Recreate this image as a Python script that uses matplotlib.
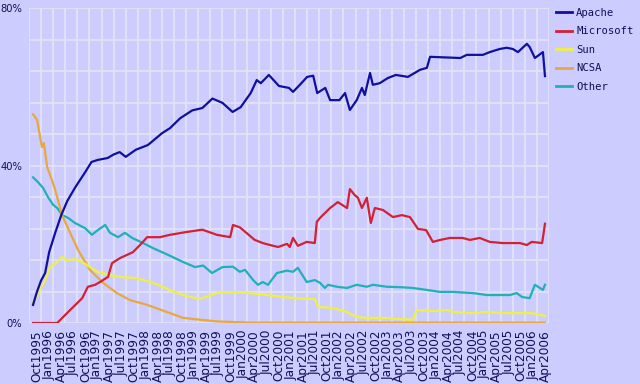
import matplotlib
matplotlib.use("Agg")
import matplotlib.pyplot as plt

# months counted from Oct 1995 (0) to Apr 2006 (126)
apache_m = [-1, 0, 1, 2, 3, 4.5, 6, 7.5, 9.5, 12, 13.5, 15, 17.5, 19, 20.5, 22, 24.5, 27.5,
            31, 33, 35.5, 38.5, 41, 43.5, 46, 48.5, 50.5, 53, 54.5, 55.5, 57.5, 60, 62.5,
            63.5, 65.2, 67, 68.5, 69.5, 71.5, 72.7, 75, 76.4, 77.6, 79.3, 80.6, 81.3, 82.6,
            83.3, 85, 87, 89, 92, 95, 96.7, 97.5, 100, 105, 106.6, 110.6, 112.3, 114.8,
            116.5, 118, 119.3, 121.5, 122.2, 123.5, 125.5, 126]
apache = [4.6, 8.0, 10.8, 12.7, 18.0, 22.9, 27.4, 31.0, 34.5, 38.4, 40.9, 41.4, 41.9, 42.8,
          43.4, 42.2, 44.0, 45.2, 48.2, 49.5, 52.0, 54.0, 54.6, 57.0, 55.9, 53.6, 54.8, 58.4,
          61.7, 60.9, 63.0, 60.2, 59.7, 58.7, 60.5, 62.5, 62.8, 58.4, 59.7, 56.6, 56.6, 58.4,
          54.1, 56.6, 59.7, 57.9, 63.5, 60.5, 60.9, 62.2, 63.0, 62.5, 64.3, 64.8, 67.6, 67.5,
          67.3, 68.1, 68.1, 68.8, 69.6, 69.9, 69.6, 68.8, 70.9, 70.1, 67.3, 68.8, 62.7]

microsoft_m = [-1, 5, 8.2, 11.2, 12.6, 14.4, 15.6, 17.6, 18.6, 20.6, 23.8, 26, 27.3, 30.5, 33,
               37, 41, 44.6, 47.9, 48.6, 50.3, 54, 56, 57.8, 59.8, 62, 62.7, 63.5, 64.7, 66.9,
               68.9, 69.4, 70.2, 72.7, 74.6, 76.9, 77.6, 78.8, 79.6, 80.6, 81.8, 82.8, 83.8,
               85.8, 88.3, 90.5, 92.5, 94.5, 96.5, 98.2, 100, 102.4, 105.6, 107.4, 109.8,
               112.3, 115.5, 119.8, 121.5, 122.7, 125.3, 126]
microsoft = [0, 0, 3.3, 6.3, 9.2, 9.7, 10.4, 11.7, 15.2, 16.5, 18.0, 20.3, 21.8, 21.8, 22.4,
             23.1, 23.7, 22.4, 21.8, 24.9, 24.3, 21.1, 20.3, 19.8, 19.3, 20.1, 19.3, 21.6,
             19.6, 20.6, 20.3, 25.7, 26.7, 29.2, 30.7, 29.2, 34.0, 32.5, 31.8, 29.2, 31.8,
             25.4, 29.2, 28.7, 26.9, 27.4, 26.9, 23.9, 23.6, 20.6, 21.1, 21.6, 21.6, 21.1,
             21.6, 20.6, 20.3, 20.3, 19.8, 20.6, 20.3, 25.2]

sun_m = [-1, 0.7, 2, 3.2, 5, 6.2, 7.4, 9.9, 12.4, 14.9, 18.1, 20.6, 24.8, 28.8, 32.5, 36.2,
         40.4, 44.6, 48.6, 52.8, 57, 61, 65.2, 68.9, 69.7, 73.4, 76.9, 79.3, 81.8, 85.8, 90,
         93.2, 94.2, 98.2, 101.7, 103.1, 108.1, 111.6, 116.5, 123, 126]
sun = [5.0, 8.4, 10.9, 14.2, 15.5, 16.8, 16.0, 16.2, 14.7, 13.0, 12.2, 11.7, 11.4, 10.2, 8.6,
       7.1, 6.1, 7.6, 7.8, 7.6, 7.1, 6.6, 6.2, 6.1, 4.1, 3.8, 2.8, 1.5, 1.3, 1.3, 1.0, 0.8,
       3.3, 3.0, 3.3, 2.8, 2.5, 2.8, 2.5, 2.5, 1.8]

ncsa_m = [-1, 0, 1.2, 1.7, 2.5, 3.7, 4.5, 5.2, 6.2, 8.2, 10.2, 13.1, 16.4, 19.8, 23.1, 27.3,
          32.2, 36.2, 44.6, 52.8, 126]
ncsa = [53.0, 51.6, 44.7, 45.7, 39.6, 36.3, 33.8, 31.2, 27.4, 22.9, 18.5, 13.5, 10.2, 7.6,
        5.8, 4.6, 2.8, 1.3, 0.4, 0.1, 0.1]

other_m = [-1, 0.2, 1.5, 2.7, 4, 5, 6.2, 7.7, 9.4, 11.9, 13.6, 15.1, 16.9, 18.1, 20.1, 21.8,
           23.6, 26.3, 28.8, 32.5, 36.2, 39.2, 41.2, 43.4, 46, 48.6, 50.3, 51.6, 53.6, 54.8,
           56, 57.3, 59.5, 62, 63.5, 64.7, 66.9, 68.9, 70.2, 71.4, 72.2, 74.4, 76.9, 79.3,
           81.8, 83.3, 86.8, 90, 93.2, 96.7, 99.9, 103.1, 108.1, 111.6, 117.3, 119, 120.3,
           122.2, 123.5, 125.5, 126]
other = [37.0, 35.8, 34.3, 32.0, 30.0, 29.2, 27.4, 26.7, 25.4, 24.1, 22.4, 23.6, 24.9, 22.9,
         21.8, 22.9, 21.6, 20.3, 19.0, 17.3, 15.5, 14.2, 14.6, 12.7, 14.2, 14.3, 13.0, 13.5,
         10.9, 9.7, 10.4, 9.7, 12.7, 13.3, 13.0, 14.0, 10.4, 10.9, 10.2, 8.9, 9.7, 9.2, 8.9,
         9.7, 9.2, 9.7, 9.2, 9.1, 8.9, 8.4, 7.9, 7.9, 7.6, 7.1, 7.1, 7.6, 6.6, 6.3, 9.7, 8.4,
         9.7]

month_names = ["Jan", "Apr", "Jul", "Oct"]
tick_months = list(range(0, 127, 3))
tick_labels = []
for m in tick_months:
    total = 9 + m  # months since Jan 1995
    tick_labels.append(month_names[(total % 12) // 3] + str(1995 + total // 12))

BG = "#ccccff"
GRID = "#e2e2f6"
TXT = "#10105a"

fig = plt.figure(figsize=(6.4, 3.84), dpi=100, facecolor=BG)
ax = fig.add_axes([29 / 640, 61 / 384, 520 / 640, 315 / 384], facecolor=BG)

series = [
    ("Other", other_m, other, "#20b0b8"),
    ("NCSA", ncsa_m, ncsa, "#e8a840"),
    ("Sun", sun_m, sun, "#f0f040"),
    ("Microsoft", microsoft_m, microsoft, "#d42035"),
    ("Apache", apache_m, apache, "#1010a0"),
]
handles = {}
for name, xs, ys, col in series:
    handles[name], = ax.plot(xs, ys, color=col, lw=1.6, label=name)

ax.set_xlim(-2, 127)
ax.set_ylim(0, 80)

ax.set_yticks(range(0, 81, 8))
ax.set_yticklabels(["0%" if v == 0 else "40%" if v == 40 else "80%" if v == 80 else ""
                    for v in range(0, 81, 8)])
ax.set_xticks(tick_months)
ax.set_xticklabels(tick_labels, rotation=90, fontsize=8.7, color=TXT)
ax.set_xticks(range(-2, 128, 3), minor=True)

ax.tick_params(axis="x", which="both", length=0, pad=5)
ax.tick_params(axis="y", length=0, pad=5, labelsize=7.2, labelcolor=TXT)
ax.grid(False, axis="x", which="major")
ax.grid(True, axis="x", which="minor", color=GRID, lw=1.3)
ax.grid(True, axis="y", color=GRID, lw=1.3)
ax.set_axisbelow(True)
for s in ax.spines.values():
    s.set_visible(False)

order = ["Apache", "Microsoft", "Sun", "NCSA", "Other"]
leg = ax.legend([handles[n] for n in order], order, loc="upper left",
                bbox_to_anchor=(556 / 640, 1 - 8 / 384), bbox_transform=fig.transFigure,
                frameon=False, prop={"family": "DejaVu Sans Mono", "size": 7.6},
                handlelength=1.5, handletextpad=0.4, labelspacing=0.8,
                borderpad=0, borderaxespad=0)
for t in leg.get_texts():
    t.set_color(TXT)
for l in leg.get_lines():
    l.set_linewidth(2)

fig.savefig("out.png", dpi=100, facecolor=BG)
